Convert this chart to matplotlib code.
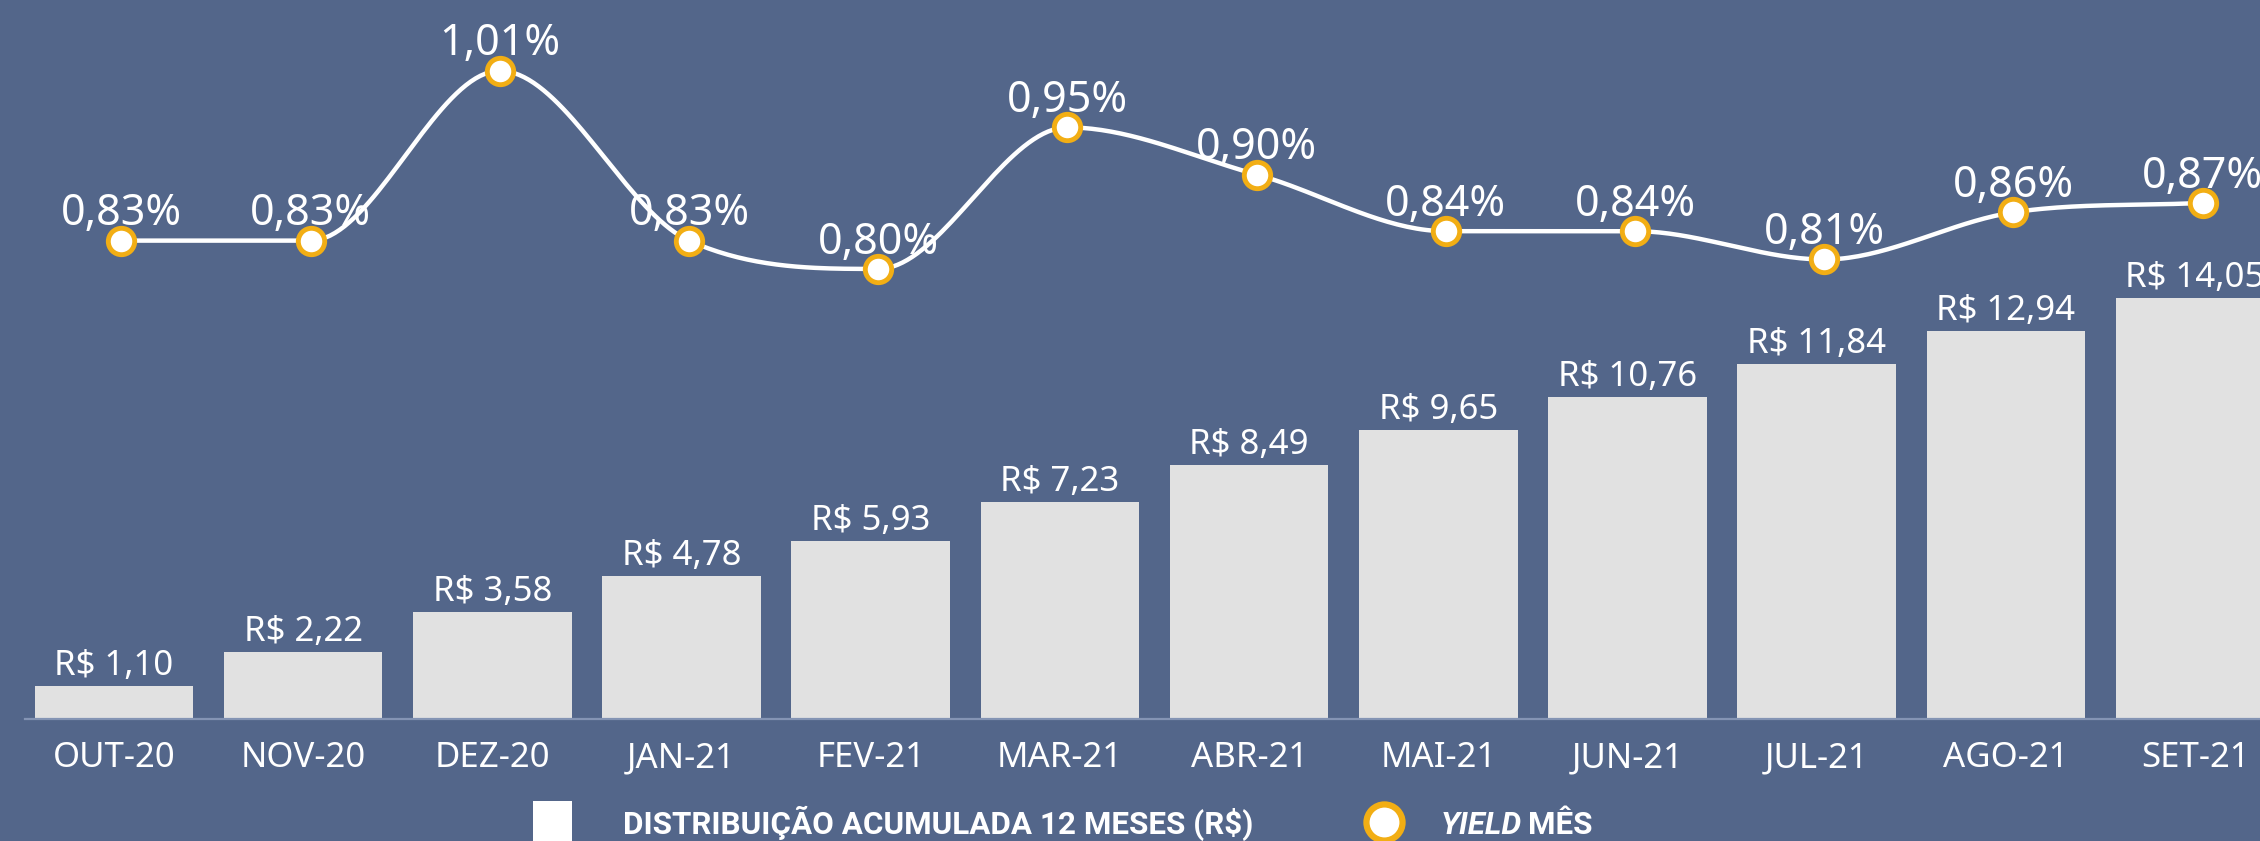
"""Distribuição acumulada 12 meses + yield mensal."""

import matplotlib

matplotlib.use("Agg")

import matplotlib.pyplot as plt  # noqa: E402
import numpy as np  # noqa: E402
from matplotlib.lines import Line2D  # noqa: E402
from matplotlib.patches import Rectangle  # noqa: E402

# ── Data ──────────────────────────────────────────────────────────────────────

MONTHS = ["OUT-20", "NOV-20", "DEZ-20", "JAN-21", "FEV-21", "MAR-21",
          "ABR-21", "MAI-21", "JUN-21", "JUL-21", "AGO-21", "SET-21"]
DIST_ACUM = [1.10, 2.22, 3.58, 4.78, 5.93, 7.23, 8.49, 9.65, 10.76, 11.84, 12.94, 14.05]
YIELD_MES = [0.83, 0.83, 1.01, 0.83, 0.80, 0.95, 0.90, 0.84, 0.84, 0.81, 0.86, 0.87]

LEGEND_BARS = "DISTRIBUIÇÃO ACUMULADA 12 MESES (R$)"
LEGEND_LINE = ("YIELD", "MÊS")

BG = "#53668A"
BAR_COLOR = "#E1E1E1"
GOLD = "#F2AE14"
BASELINE = "#8494B4"
W, H = 2260, 841
LINE_SHIFT = 0.04  # the yield series sits slightly right of the bar centres

plt.rcParams["font.family"] = ["Noto Sans", "DejaVu Sans"]
LEG_FONT = ["Liberation Sans Narrow", "Roboto", "DejaVu Sans"]


def smooth(y, n=40):
    """Monotone-limited cubic Hermite curve through the points (unit spacing)."""
    y = np.asarray(y, dtype=float)
    d = np.diff(y)
    m = np.zeros_like(y)
    m[0], m[-1] = d[0], d[-1]
    for k in range(1, len(y) - 1):
        if d[k - 1] * d[k] > 0:
            avg = (d[k - 1] + d[k]) / 2
            lim = 3 * min(abs(d[k - 1]), abs(d[k]))
            m[k] = np.sign(avg) * min(abs(avg), lim)
    xs, ys = [], []
    t = np.linspace(0, 1, n)
    h00 = 2 * t**3 - 3 * t**2 + 1
    h10 = t**3 - 2 * t**2 + t
    h01 = -2 * t**3 + 3 * t**2
    h11 = t**3 - t**2
    for k in range(len(y) - 1):
        xs.append(k + t)
        ys.append(h00 * y[k] + h10 * m[k] + h01 * y[k + 1] + h11 * m[k + 1])
    return np.concatenate(xs), np.concatenate(ys)


# ── Figure ────────────────────────────────────────────────────────────────────

fig = plt.figure(figsize=(W / 100, H / 100), dpi=100, facecolor=BG)
left, bottom = 24.5 / W, (H - 719) / H
ax = fig.add_axes([left, bottom, 1 - left, 1 - bottom])
ax.set_facecolor(BG)

x = np.arange(len(MONTHS))
ax.bar(x, DIST_ACUM, width=0.838, color=BAR_COLOR, zorder=2)
for xi, v in zip(x, DIST_ACUM, strict=True):
    ax.annotate(f"R$ {v:.2f}".replace(".", ","), (xi, v), xytext=(0, 8),
                textcoords="offset points", ha="center", va="baseline",
                fontsize=25, color="white", annotation_clip=False)

ax.set_xlim(-0.4725, 11.343)
ax.set_ylim(0, 24.0)
ax.set_xticks(x, MONTHS)
ax.tick_params(axis="x", length=0, pad=16, labelsize=25, labelcolor="white")
ax.set_yticks([])
for side in ["top", "right", "left"]:
    ax.spines[side].set_visible(False)
ax.spines["bottom"].set_color(BASELINE)
ax.spines["bottom"].set_linewidth(1.6)
ax.spines["bottom"].set_zorder(3)

ax2 = ax.twinx()
ax2.set_ylim(0.323, 1.085)
ax2.set_xlim(ax.get_xlim())
ax2.set_yticks([])
for side in ["top", "right", "left", "bottom"]:
    ax2.spines[side].set_visible(False)

sx, sy = smooth(YIELD_MES)
lx = x + LINE_SHIFT
ax2.plot(sx + LINE_SHIFT, sy, color="white", linewidth=3.2,
         solid_capstyle="round", zorder=3)
ax2.plot(lx, YIELD_MES, linestyle="none", marker="o", markersize=19,
         markerfacecolor="white", markeredgecolor=GOLD, markeredgewidth=3.5,
         zorder=4, clip_on=False)
for xi, v in zip(lx, YIELD_MES, strict=True):
    ax2.annotate(f"{v:.2f}%".replace(".", ","), (xi, v), xytext=(0, 11),
                 textcoords="offset points", ha="center", va="baseline",
                 fontsize=31, color="white", zorder=5, annotation_clip=False)

# ── Legend (drawn by hand, bottom of figure) ─────────────────────────────────

fig.add_artist(Rectangle((533 / W, 0), 39 / W, 40 / H, transform=fig.transFigure,
                         facecolor="white", edgecolor="none"))
t1 = fig.text(623 / W, 7 / H, LEGEND_BARS, family=LEG_FONT, fontweight="bold",
              fontsize=22, color="white", va="baseline", ha="left")

fig.add_artist(Line2D([1384 / W], [(H - 822) / H], transform=fig.transFigure,
                      marker="o", markersize=26, markerfacecolor="white",
                      markeredgecolor=GOLD, markeredgewidth=4.5, linestyle="none"))
t2 = fig.text(1441 / W, 7 / H, LEGEND_LINE[0], family=LEG_FONT, fontweight="bold",
              fontstyle="italic", fontsize=22, color="white", va="baseline", ha="left")

renderer = fig.canvas.get_renderer()
w1 = t1.get_window_extent(renderer).width
t1.set_fontsize(22 * 628 / w1)
t2.set_fontsize(t1.get_fontsize())
bb = t2.get_window_extent(renderer)
t3 = fig.text((bb.x1 + 0.28 * t1.get_fontsize()) / W, 7 / H, LEGEND_LINE[1],
              family=LEG_FONT, fontweight="bold", fontsize=t1.get_fontsize(),
              color="white", va="baseline", ha="left")

fig.savefig("out.png", dpi=100, facecolor=BG)
plt.close(fig)
print("Saved: out.png")
